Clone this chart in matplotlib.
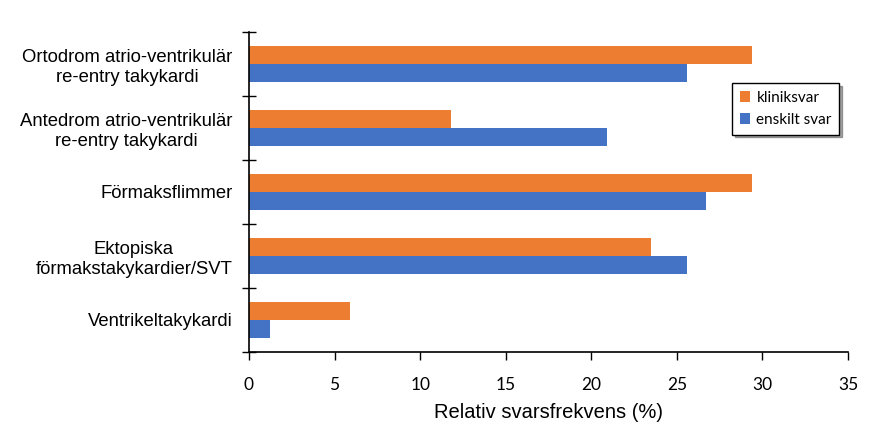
import numpy as np
import matplotlib.pyplot as plt

# Datos (relativ svarsfrekvens, %)
kategorier = ["Ortodrom atrio-ventrikulär\nre-entry takykardi",
              "Antedrom atrio-ventrikulär\nre-entry takykardi",
              "Förmaksflimmer",
              "Ektopiska\nförmakstakykardier/SVT",
              "Ventrikeltakykardi"]
kliniksvar = [29.4, 11.8, 29.4, 23.5, 5.9]
enskilt_svar = [25.6, 20.9, 26.7, 25.6, 1.2]
x_ticks = [0, 5, 10, 15, 20, 25, 30, 35]

ORANGE = '#ED7D31'
BLUE = '#4472C4'

fig = plt.figure(figsize=(8.84, 4.41), dpi=100)
ax = fig.add_axes([249 / 884, 1 - 352 / 441, 599 / 884, 320 / 441])

y = np.arange(len(kategorier))
h = 0.28
ax.barh(y - h / 2, kliniksvar, height=h, color=ORANGE, label='kliniksvar')
ax.barh(y + h / 2, enskilt_svar, height=h, color=BLUE, label='enskilt svar')

ax.set_ylim(len(kategorier) - 0.5, -0.5)
ax.set_xlim(0, 35)
ax.set_xticks(x_ticks)
ax.set_xticklabels([str(v) for v in x_ticks], family='Lato', fontsize=12.5)

# etiquetas de categoría centradas, marcas entre categorías
ax.set_yticks(y)
ax.set_yticklabels(kategorier, family='Liberation Sans', fontsize=13.3)
for lbl in ax.get_yticklabels():
    lbl.set_multialignment('center')
ax.tick_params(axis='y', which='major', length=0, pad=12)
ax.set_yticks(np.arange(-0.5, len(kategorier) + 0.5), minor=True)
ax.tick_params(axis='y', which='minor', direction='inout', length=10, width=1)
ax.tick_params(axis='x', direction='out', length=6, width=1, pad=12)

for s in ['top', 'right']:
    ax.spines[s].set_visible(False)
ax.spines['left'].set_linewidth(1.2)
ax.spines['bottom'].set_linewidth(1.2)

ax.set_xlabel("Relativ svarsfrekvens (%)", family='Liberation Sans',
              fontsize=14.5, labelpad=7)

leg = ax.legend(loc='upper left', bbox_to_anchor=(732 / 884, 1 - 83 / 441),
                bbox_transform=fig.transFigure, prop={'family': 'Lato', 'size': 11},
                frameon=True, fancybox=False, shadow=True, borderpad=0.5,
                handlelength=0.7, handleheight=0.7, handletextpad=0.4,
                labelspacing=0.55, borderaxespad=0)
leg.get_frame().set_edgecolor('black')
leg.get_frame().set_linewidth(1)

plt.savefig("out.png", dpi=100)
